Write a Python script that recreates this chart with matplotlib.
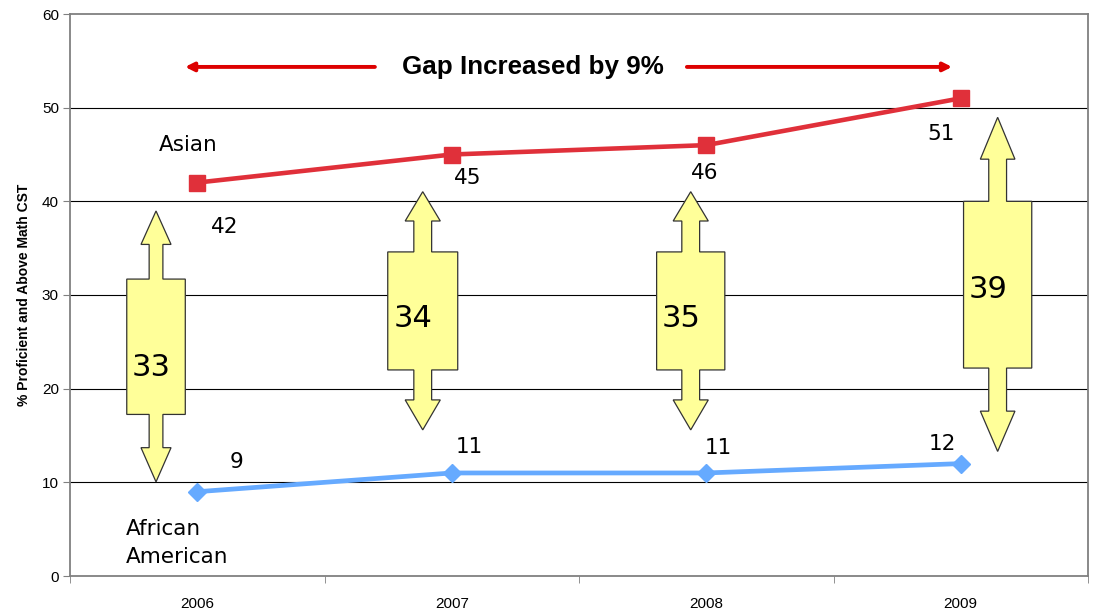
import matplotlib
matplotlib.use("Agg")
import matplotlib.pyplot as plt
from matplotlib.patches import Polygon

# ---- data ----
years = ['2006', '2007', '2008', '2009']
asian = [42, 45, 46, 51]
african_american = [9, 11, 11, 12]
gap = [33, 34, 35, 39]

# ---- annotation geometry (category units / data units) ----
arrow_cx = [-0.162, 0.886, 1.939, 3.145]
arrow_box_hw = [0.115, 0.1375, 0.134, 0.134]
arrow_head_hw = [0.059, 0.069, 0.069, 0.068]
arrow_shaft_hw = [0.027, 0.035, 0.035, 0.035]
arrow_levels = [  # tip, head base, box top, box bottom, lower head base, bottom tip
    [38.97, 35.4, 31.7, 17.25, 13.7, 10.05],
    [41.03, 37.9, 34.6, 22.0, 18.8, 15.6],
    [41.03, 37.9, 34.6, 22.0, 18.8, 15.6],
    [48.97, 44.5, 40.0, 22.2, 17.6, 13.3],
]
gap_label_y = [21.35, 26.6, 26.6, 29.65]
gap_label_dx = [-5, -10, -10, -10]
asian_off = [(27, -50), (16, -30), (-2, -34), (-20, -42)]
aa_off = [(39, 24), (18, 20), (12, 19), (-18, 14)]

W, H = 1096, 612
fig = plt.figure(figsize=(W / 100, H / 100), dpi=100)
ax = fig.add_axes([70 / W, 36 / H, 1018 / W, 562 / H])

x = list(range(len(years)))
ax.set_xlim(-0.5, len(years) - 0.5)
ax.set_ylim(0, 60)

# gridlines
for v in range(10, 60, 10):
    ax.axhline(v, color='black', lw=0.8, zorder=1)

red = '#E0303A'
blue = '#66AAFF'
ax.plot(x, asian, color=red, lw=3.3, marker='s', markersize=11.5, zorder=4)
ax.plot(x, african_american, color=blue, lw=3.4, marker='D', markersize=9, zorder=4)

# yellow double arrows
for i in range(len(years)):
    cx = arrow_cx[i]
    bw, hw, sw = arrow_box_hw[i], arrow_head_hw[i], arrow_shaft_hw[i]
    t, hb, bt, bb, lhb, bt2 = arrow_levels[i]
    pts = [
        (cx, t), (cx + hw, hb), (cx + sw, hb), (cx + sw, bt), (cx + bw, bt),
        (cx + bw, bb), (cx + sw, bb), (cx + sw, lhb), (cx + hw, lhb), (cx, bt2),
        (cx - hw, lhb), (cx - sw, lhb), (cx - sw, bb), (cx - bw, bb),
        (cx - bw, bt), (cx - sw, bt), (cx - sw, hb), (cx - hw, hb),
    ]
    ax.add_patch(Polygon(pts, closed=True, facecolor='#FFFF99',
                         edgecolor='#333333', lw=0.9, zorder=3))
    ax.annotate(str(gap[i]), xy=(cx, gap_label_y[i]), xytext=(gap_label_dx[i], 0),
                textcoords='offset pixels', ha='center', va='baseline',
                fontsize=22, family='DejaVu Sans', color='black', zorder=5)

# data labels
for i in range(len(years)):
    ax.annotate(str(asian[i]), xy=(x[i], asian[i]), xytext=asian_off[i],
                textcoords='offset pixels', ha='center', va='baseline',
                fontsize=15.5, family='DejaVu Sans', zorder=5)
    ax.annotate(str(african_american[i]), xy=(x[i], african_american[i]),
                xytext=aa_off[i], textcoords='offset pixels', ha='center',
                va='baseline', fontsize=15.5, family='DejaVu Sans', zorder=5)

ax.text(-0.034, 45.37, 'Asian', ha='center', va='baseline',
        fontsize=15.5, family='DejaVu Sans')
ax.text(-0.28, 4.38, 'African', ha='left', va='baseline', fontsize=15.5,
        family='DejaVu Sans')
ax.text(-0.28, 1.39, 'American', ha='left', va='baseline', fontsize=15.5,
        family='DejaVu Sans')

# gap title with red arrows
ax.text(1.317, 54.35, 'Gap Increased by 9%', ha='center', va='center',
        fontsize=18.7, fontweight='bold', family='Liberation Sans')
arrow_red = '#DD0000'
ax.annotate('', xy=(-0.048, 54.35), xytext=(0.698, 54.35),
            arrowprops=dict(arrowstyle='-|>,head_length=0.5,head_width=0.25',
                            color=arrow_red, lw=2.8, shrinkA=0, shrinkB=0))
ax.annotate('', xy=(2.966, 54.35), xytext=(1.924, 54.35),
            arrowprops=dict(arrowstyle='-|>,head_length=0.5,head_width=0.25',
                            color=arrow_red, lw=2.8, shrinkA=0, shrinkB=0))

# axes styling
for s in ['left', 'right', 'top', 'bottom']:
    ax.spines[s].set_color('#808080')
    ax.spines[s].set_linewidth(1.3)
ax.set_yticks(range(0, 61, 10))
ax.tick_params(axis='y', direction='out', length=5, color='#808080',
               labelsize=11, pad=3)
ax.set_xticks(x)
ax.set_xticklabels(years)
ax.tick_params(axis='x', which='major', length=0, labelsize=11, pad=15)
ax.set_xticks([i + 0.5 for i in range(-1, len(years))], minor=True)
ax.tick_params(axis='x', which='minor', direction='out', length=5,
               color='#808080')
for lab in ax.get_xticklabels() + ax.get_yticklabels():
    lab.set_family('Liberation Sans')
ax.set_ylabel('% Proficient and Above Math CST', fontsize=10,
              fontweight='bold', family='Liberation Sans', labelpad=8)

fig.savefig('out.png', dpi=100)
